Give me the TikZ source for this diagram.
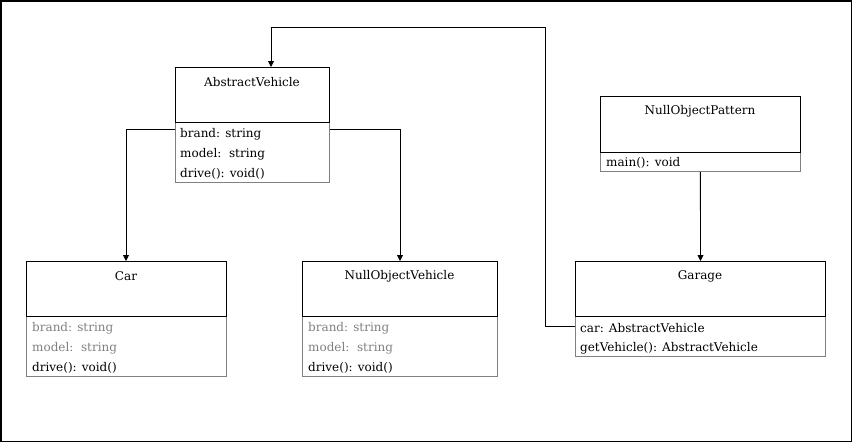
\documentclass[tikz,border=0pt]{standalone}
\usepackage{fontspec}
\setmainfont{DejaVu Serif}
\usetikzlibrary{arrows.meta}
\definecolor{grayline}{HTML}{808080}
\definecolor{graytext}{HTML}{808080}
\tikzset{
  hdr/.style={draw=black, line width=1pt, minimum width=#1, minimum height=55pt, inner sep=0pt, anchor=north west},
  bodybox/.style={draw=grayline, line width=0.8pt, inner sep=0pt, anchor=north west},
  ttl/.style={font=\fontsize{12}{14}\selectfont, anchor=center, inner sep=0pt},
  attr/.style={font=\fontsize{12}{14}\selectfont, anchor=west, inner sep=0pt},
  gattr/.style={attr, text=graytext},
  conn/.style={draw=black, line width=0.9pt, -{Triangle[width=6pt,length=6pt]}},
}
\begin{document}
\begin{tikzpicture}[x=1pt,y=-1pt]
\useasboundingbox (0,0) rectangle (852,442);
\draw[line width=1.5pt] (0.75,0.75) rectangle (851.25,441.25);

% AbstractVehicle
\node[bodybox, minimum width=154pt, minimum height=60pt] (avb) at (175,122) {};
\node[hdr=154pt] (avh) at (175,67) {};
\node[ttl] (avt) at (252,82) {AbstractVehicle};
\node[attr] (ava1) at (180,134) {brand: string};
\node[attr] (ava2) at (180,154) {model:\ \ string};
\node[attr] (ava3) at (180,174) {drive(): void()};

% Car
\node[bodybox, minimum width=200pt, minimum height=60pt] (carb) at (26,316) {};
\node[hdr=200pt] (carh) at (26,261) {};
\node[ttl] (cart) at (126,276) {Car};
\node[gattr] (cara1) at (32,328) {brand: string};
\node[gattr] (cara2) at (32,348) {model:\ \ string};
\node[attr] (cara3) at (32,368) {drive(): void()};

% NullObjectVehicle
\node[bodybox, minimum width=195pt, minimum height=60pt] (novb) at (302,316) {};
\node[hdr=195pt] (novh) at (302,261) {};
\node[ttl] (novt) at (399.5,276) {NullObjectVehicle};
\node[gattr] (nova1) at (308,328) {brand: string};
\node[gattr] (nova2) at (308,348) {model:\ \ string};
\node[attr] (nova3) at (308,368) {drive(): void()};

% NullObjectPattern
\node[bodybox, minimum width=200pt, minimum height=19pt] (nopb) at (600,152) {};
\node[hdr=200pt, minimum height=56pt] (noph) at (600,96) {};
\node[ttl] (nopt) at (700,111) {NullObjectPattern};
\node[attr] (nopa1) at (606,163) {main(): void};

% Garage
\node[bodybox, minimum width=250pt, minimum height=40pt] (garb) at (575,316) {};
\node[hdr=250pt] (garh) at (575,261) {};
\node[ttl] (gart) at (700,276) {Garage};
\node[attr] (gara1) at (580,328) {car: AbstractVehicle};
\node[attr] (gara2) at (580,348) {getVehicle(): AbstractVehicle};

% connectors
\coordinate (c1) at (126,129);
\coordinate (c2) at (400,129);
\coordinate (g1) at (545,326);
\coordinate (g2) at (545,27);
\coordinate (g3) at (271,27);
\draw[conn] (avb.west |- c1) -- (c1) -- (carh.north -| c1);
\draw[conn] (avb.east |- c2) -- (c2) -- (novh.north -| c2);
\draw[conn] (garb.west |- g1) -- (g1) -- (g2) -- (g3) -- (avh.north -| g3);
\draw[conn] (nopb.south) -- (garh.north);
\end{tikzpicture}
\end{document}
